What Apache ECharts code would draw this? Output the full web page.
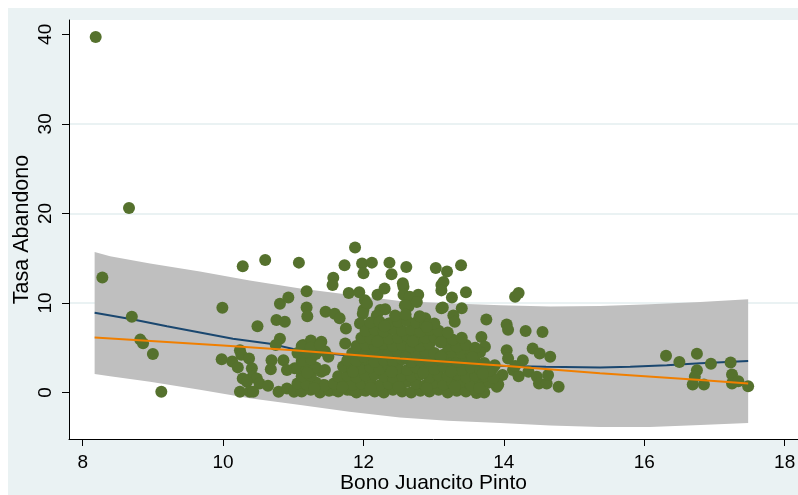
<!DOCTYPE html>
<html><head><meta charset="utf-8">
<script src="https://cdn.jsdelivr.net/npm/echarts@6/dist/echarts.min.js"></script>
<style>html,body{margin:0;padding:0;background:#fff}#c{width:798px;height:495px}</style>
</head><body><div id="c"></div>
<script>
const xTicks = [8, 10, 12, 14, 16, 18];
const yTicks = [0, 10, 20, 30, 40];

// Observed points [Bono Juancito Pinto, Tasa Abandono]
const outlierPoints = [
  [8.185,39.7],[8.66,20.6],[8.28,12.85],[8.70,8.45],[8.82,5.9],[8.86,5.5],[9.0,4.3],[9.12,0.07],
  [9.99,9.45],[9.98,3.7],[10.13,3.45],[10.21,2.8],[10.24,4.7],[10.26,4.2],[10.37,3.8],[10.41,2.7],
  [10.42,1.74],[10.28,1.56],[10.48,1.56],[10.34,1.2],[10.52,1.0],[10.24,0.07],[10.38,0.07],[10.43,0.07],
  [10.64,0.75],[10.69,3.6],[10.68,2.6],[10.79,0.07],[10.86,3.6],[10.91,2.5],[10.91,0.45],[11.01,0.07],
  [10.28,14.1],[10.60,14.8],[11.08,14.5],[10.49,7.4],[10.81,9.9],[10.76,8.1],[10.88,7.9],[10.81,6.0],
  [10.75,5.3],[10.93,10.6],[11.19,11.3],[11.19,9.5],[11.20,8.5],[11.46,9.0],[11.59,8.8],[11.66,8.3],[11.75,7.15]
];
const upperPoints = [
  [11.88,16.2],[11.73,14.2],[11.98,14.4],[12.12,14.5],[12.0,13.3],[12.37,14.5],[12.40,13.2],[12.61,14.0],
  [13.03,13.9],[13.19,13.5],[13.39,14.2],[11.57,12.8],[11.56,12.0],[12.57,11.8],[12.56,12.2],[13.11,12.0],
  [13.14,12.35],[13.26,10.6],[13.46,11.2],[11.79,11.1],[11.94,11.2],[12.20,10.9],[12.30,11.6],[14.16,10.7],
  [14.21,11.1],[12.57,10.9],[12.78,10.9],[13.11,11.4],
  [12.02,10.3],[12.0,9.2],[12.24,9.2],[12.31,9.3],[12.66,10.7],[12.64,9.6],[12.76,10.1],[12.88,8.3],
  [13.11,9.4],[13.40,9.4],[13.28,8.6],[13.75,8.15],[13.68,6.2],[13.30,7.9],[12.05,9.9],[11.99,8.8],
  [11.95,7.7],[12.38,7.7],[12.59,9.75],[12.19,8.6],[13.13,9.5]
];
const rightPoints = [
  [14.04,7.6],[14.06,7.0],[14.31,6.85],[14.55,6.75],[14.04,4.7],[14.06,3.8],[14.27,3.6],[14.41,4.9],
  [14.51,4.35],[14.66,4.0],[14.13,2.5],[14.21,1.8],[13.98,1.95],[13.90,0.63],[13.84,2.68],[13.61,-0.05],
  [13.45,0.26],[14.35,2.3],[14.47,1.74],[14.50,1.0],[14.61,1.0],[14.63,1.95],[14.78,0.63],[13.92,0.9],
  [14.16,2.94],[13.87,3.05],[13.73,5.1],
  [16.31,4.09],[16.50,3.39],[16.75,4.31],[16.75,2.49],[16.72,1.74],[16.69,0.89],[16.85,0.89],[16.95,3.2],
  [17.23,3.35],[17.25,2.0],[17.25,1.0],[17.34,1.26],[17.48,0.70]
];
const corePoints = [
  [11.02,0.26],[11.02,2.7],[11.14,5.3],[11.25,5.8],[11.40,5.65],[11.43,0.82],[11.40,2.3],[11.59,0.26],
  [11.74,5.47],[11.83,0.26],[12.0,0.26],
  [11.12,0.1],[11.25,0.3],[11.38,0.0],[11.51,0.2],[11.64,0.1],[11.77,0.3],[11.90,0.0],[12.03,0.2],[12.16,0.1],
  [12.29,0.0],[12.42,0.3],[12.55,0.1],[12.68,0.0],[12.81,0.2],[12.94,0.1],[13.07,0.3],[13.20,0.0],[13.33,0.2],
  [13.46,0.1],[13.59,0.3],[13.72,0.0],
  [11.06,1.0],[11.19,0.9],[11.32,1.1],[11.45,0.8],[11.58,1.0],[11.71,1.2],[11.84,0.9],[11.97,1.0],[12.10,1.1],
  [12.23,0.8],[12.36,1.0],[12.49,0.9],[12.62,1.2],[12.75,1.0],[12.88,0.8],[13.01,1.1],[13.14,0.9],[13.27,1.0],
  [13.40,1.2],[13.53,0.8],[13.66,1.0],[13.79,1.1],
  [11.12,1.8],[11.25,1.9],[11.64,1.8],[11.77,1.9],[11.90,1.7],[12.03,1.9],[12.16,2.0],[12.29,1.8],[12.42,1.7],
  [12.55,1.9],[12.68,1.8],[12.81,2.0],[12.94,1.7],[13.07,1.9],[13.20,1.8],[13.33,2.0],[13.46,1.7],[13.59,1.9],
  [13.72,1.8],[13.85,1.6],
  [11.06,2.7],[11.19,2.6],[11.32,2.8],[11.45,2.5],[11.71,2.9],[11.84,2.6],[11.97,2.7],[12.10,2.8],[12.23,2.6],
  [12.36,2.9],[12.49,2.7],[12.62,2.5],[12.75,2.8],[12.88,2.7],[13.01,2.6],[13.14,2.9],[13.27,2.7],[13.40,2.5],
  [13.53,2.8],[13.66,2.6],[13.79,2.4],
  [11.12,3.5],[11.25,3.7],[11.77,3.6],[11.90,3.5],[12.03,3.7],[12.16,3.4],[12.29,3.6],[12.42,3.5],[12.55,3.7],
  [12.68,3.4],[12.81,3.6],[12.94,3.5],[13.07,3.7],[13.20,3.5],[13.33,3.4],[13.46,3.6],[13.59,3.5],[13.72,3.3],
  [11.06,4.4],[11.19,4.5],[11.32,4.3],[11.45,4.6],[11.84,4.4],[11.97,4.5],[12.10,4.3],[12.23,4.6],[12.36,4.4],
  [12.49,4.5],[12.62,4.3],[12.75,4.4],[12.88,4.6],[13.01,4.4],[13.14,4.2],[13.27,4.5],[13.40,4.4],[13.53,4.3],
  [13.66,4.5],
  [11.12,5.2],[11.25,5.0],[11.38,5.3],[11.90,5.2],[12.03,5.3],[12.16,5.1],[12.29,5.4],[12.42,5.2],[12.55,5.3],
  [12.68,5.1],[12.81,5.2],[12.94,5.4],[13.20,5.2],[13.33,5.1],[13.46,5.3],[13.59,5.0],
  [11.97,6.1],[12.10,6.0],[12.23,6.2],[12.36,6.0],[12.49,6.1],[12.62,6.3],[12.75,6.0],[12.88,6.1],[13.01,6.2],
  [13.14,6.0],[13.27,5.9],[13.40,6.1],
  [12.03,6.9],[12.16,7.0],[12.29,6.8],[12.42,7.1],[12.55,6.9],[12.68,7.0],[12.81,6.8],[12.94,7.0],[13.07,6.9],
  [13.20,6.7],
  [12.10,7.8],[12.23,7.9],[12.36,7.7],[12.49,7.9],[12.62,8.0],[12.75,7.8],[12.88,7.6],[13.01,7.7],
  [12.45,8.6],[12.60,8.7],[12.80,8.5],
  [11.30,0.5],[11.70,0.6],[12.10,0.5],[12.50,0.6],[12.90,0.5],[13.30,0.6],[13.65,0.5],
  [11.20,2.2],[11.85,2.3],[12.40,2.3],[12.85,2.2],[13.25,2.3],[13.70,2.1],
  [11.50,4.0],[12.00,4.0],[12.60,3.9],[13.10,4.0],[13.55,3.9],
  [12.20,5.7],[12.70,5.7],[13.10,5.6],[12.30,7.4],[12.90,7.3]
];
// Quadratic fit (blue) and linear fit (orange)
const quadFit = [
  [8.17,8.9],[8.72,8.15],[9.2,7.4],[9.67,6.7],[10.14,6.0],[10.67,5.45],[11.0,4.85],[11.5,4.35],[12.0,3.95],
  [12.5,3.6],[13.0,3.3],[13.5,3.1],[14.0,2.95],[14.6,2.86],[15.37,2.8],[15.8,2.86],[16.32,3.05],[16.8,3.25],[17.48,3.5]
];
const linFit = [
  [8.17,6.15],[10.0,5.25],[11.0,4.7],[12.52,3.8],[13.95,3.0],[15.37,2.15],[16.8,1.38],[17.48,1.0]
];
// Confidence band [x, lower, upper]
const band = [
  [8.17,2.05,15.7],[8.39,1.8,15.2],[8.96,1.2,14.4],[9.67,0.3,13.5],[10.38,-0.65,12.5],[11.1,-1.4,11.6],
  [11.8,-2.15,10.9],[12.52,-2.8,10.2],[13.2,-3.15,9.95],[13.95,-3.4,9.75],[14.66,-3.7,9.6],[15.37,-3.85,9.65],
  [16.08,-3.85,9.85],[16.8,-3.65,10.1],[17.48,-3.4,10.4]
];

const allPoints = outlierPoints.concat(upperPoints, rightPoints, corePoints);
const FONT = 'Liberation Sans, Arial, sans-serif';
const chart = echarts.init(document.getElementById('c'), null, {renderer: 'canvas'});
chart.setOption({
  animation: false,
  backgroundColor: '#ffffff',
  graphic: [
    {type: 'rect', z: -100, shape: {x: 8, y: 8, width: 790, height: 487}, style: {fill: '#eaf2f3'}, silent: true},
    {type: 'rect', z: -99, shape: {x: 69, y: 20, width: 729, height: 419}, style: {fill: '#ffffff'}, silent: true}
  ],
  grid: {left: 69, right: 0, top: 20, bottom: 56, containLabel: false, outerBoundsMode: 'none'},
  xAxis: {
    type: 'value', min: 7.805, max: 18.19,
    axisLine: {show: true, onZero: false, lineStyle: {color: '#000', width: 1}},
    axisTick: {show: true, customValues: xTicks, length: 7, lineStyle: {color: '#000'}},
    axisLabel: {customValues: xTicks, fontSize: 19, color: '#000', margin: 14, fontFamily: FONT},
    splitLine: {show: false},
    name: 'Bono Juancito Pinto', nameLocation: 'middle', nameGap: 34, nameMoveOverlap: false,
    nameTextStyle: {fontSize: 21, color: '#000', fontFamily: FONT}
  },
  yAxis: {
    type: 'value', min: -5.2, max: 41.6,
    axisLine: {show: true, onZero: false, lineStyle: {color: '#000', width: 1}},
    axisTick: {show: true, customValues: yTicks, length: 7, lineStyle: {color: '#000'}},
    axisLabel: {customValues: yTicks, rotate: 90, fontSize: 19, color: '#000', margin: 14, fontFamily: FONT},
    splitLine: {show: true, showMinLine: false, showMaxLine: false, lineStyle: {color: '#eaf2f3', width: 2}},
    name: 'Tasa Abandono', nameLocation: 'middle', nameGap: 36, nameMoveOverlap: false,
    nameTextStyle: {fontSize: 21.5, color: '#000', fontFamily: FONT}
  },
  series: [
    {
      type: 'custom', z: 1, silent: true, clip: true,
      data: band,
      encode: {x: 0, y: [1, 2]},
      renderItem: function (params, api) {
        if (params.dataIndex !== 0) return;
        const pts = [];
        for (let i = 0; i < band.length; i++) pts.push(api.coord([band[i][0], band[i][2]]));
        for (let i = band.length - 1; i >= 0; i--) pts.push(api.coord([band[i][0], band[i][1]]));
        return {type: 'polygon', shape: {points: pts}, style: {fill: '#bfbfbf', stroke: null}};
      }
    },
    {
      type: 'line', z: 2, data: quadFit, showSymbol: false, smooth: false, silent: true,
      lineStyle: {color: '#1a476f', width: 2}
    },
    {
      type: 'scatter', z: 3, data: allPoints, symbol: 'circle', symbolSize: 12, silent: true,
      itemStyle: {color: '#55712d', opacity: 1}
    },
    {
      type: 'line', z: 4, data: linFit, showSymbol: false, smooth: false, silent: true,
      lineStyle: {color: '#f07f00', width: 2}
    }
  ]
});
</script>
</body></html>
